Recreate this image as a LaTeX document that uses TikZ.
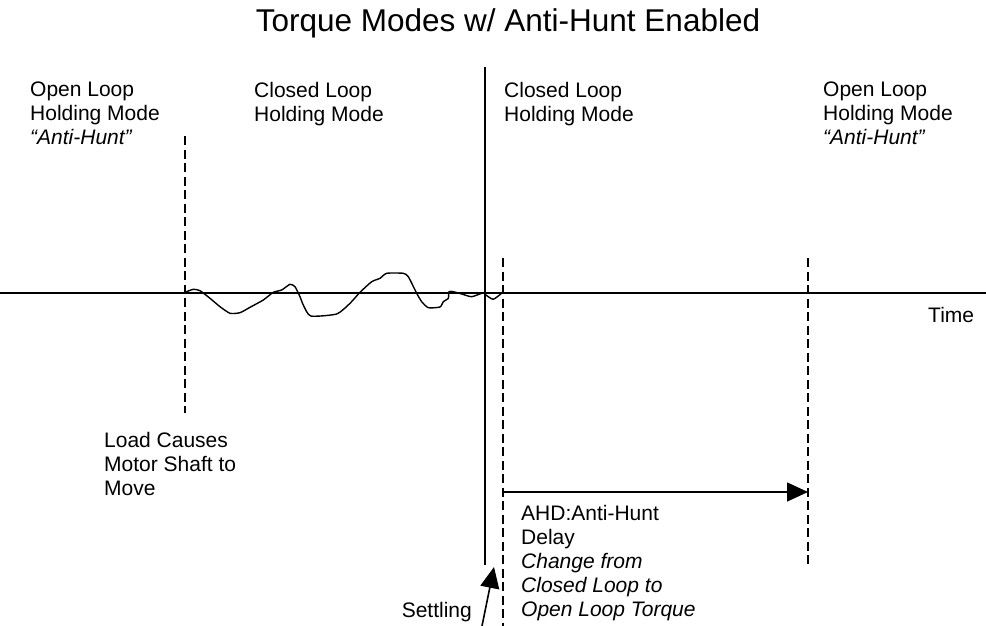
\documentclass[tikz,border=0pt]{standalone}
\usepackage{fontspec}
\setmainfont{Liberation Sans}
\usetikzlibrary{arrows.meta}

\tikzset{
  lbl/.style={anchor=north west,inner sep=0pt,align=left,font=\fontsize{21}{24}\selectfont},
  axisline/.style={line width=1.6pt},
  guide/.style={line width=1.6pt,dash pattern=on 9pt off 4.5pt},
  bigtip/.style={line width=1.6pt,-{Triangle[length=21pt,width=19pt]}}
}

\begin{document}
\begin{tikzpicture}[x=1pt,y=-1pt]
\useasboundingbox (0,0) rectangle (986,626);

% title
\node[anchor=base,inner sep=0pt,font=\fontsize{31.5}{36}\selectfont] (title) at (508,32) {Torque Modes w/ Anti-Hunt Enabled};

% time axis
\coordinate (t0) at (0,293);
\coordinate (t1) at (986,293);
\draw[axisline] (t0) -- (t1);
\node[anchor=base west,inner sep=0pt,font=\fontsize{21}{24}\selectfont] (time) at (928,322) {Time};

% mode boundaries
\coordinate (load top) at (185,136);
\coordinate (load bot) at (185,413);
\coordinate (settle top) at (485,67);
\coordinate (settle bot) at (485,565);
\coordinate (ahd top) at (503,258);
\coordinate (ahd bot) at (503,626);
\coordinate (hunt top) at (808,258);
\coordinate (hunt bot) at (808,568);
\draw[guide] (load top) -- (load bot);
\draw[axisline] (settle top) -- (settle bot);
\draw[guide] (ahd top) -- (ahd bot);
\draw[guide] (hunt top) -- (hunt bot);

% shaft position while the load acts
\draw[line width=1.4pt,line join=round] plot[smooth,tension=0.35] coordinates {
  (185,292.3) (193.3,289.3) (200,290.7) (210,298.3) (220,306.7) (230,313.3)
  (240,312.7) (250,307.3) (263.3,300) (273.3,292.3) (281.7,290) (290,284.3)
  (295,286.7) (300,296.7) (303.3,305) (310.7,316) (336.7,314) (350,303.3)
  (360,292.3) (371.7,281.7) (380,278.3) (386.7,273.3) (403.3,273.3) (408.3,276.7)
  (416.7,293.3) (421.7,301.7) (428.3,307.7) (440,307) (443.3,301.7) (448.3,298.3)
  (449,291.7) (453.3,291.7) (461.7,294) (471.7,296.7) (483.3,292.7) (485,294.3)
  (493.3,299.3) (502.7,292.3)};

% mode labels
\node[lbl] (ol left) at (30,81.7) {Open Loop\\Holding Mode\\\textit{“Anti-Hunt”}};
\node[lbl] (cl left) at (254,81.7) {Closed Loop\\Holding Mode};
\node[lbl] (cl right) at (504,81.7) {Closed Loop\\Holding Mode};
\node[lbl] (ol right) at (823,81.7) {Open Loop\\Holding Mode\\\textit{“Anti-Hunt”}};

\node[lbl] (load) at (104,431.7) {Load Causes\\Motor Shaft to\\Move};

% anti-hunt delay
\coordinate (delay a) at (503,492);
\coordinate (delay b) at (808,492);
\draw[bigtip] (delay a) -- (delay b);
\node[lbl] (ahd) at (521,504.7) {AHD:Anti-Hunt\\Delay\\\textit{Change from}\\\textit{Closed Loop to}\\\textit{Open Loop Torque}};

% settling
\coordinate (settle tail) at (482,626);
\coordinate (settle tip) at (494,567);
\draw[bigtip] (settle tail) -- (settle tip);
\node[anchor=base east,inner sep=0pt,font=\fontsize{21}{24}\selectfont] (settling) at (472,617) {Settling};
\end{tikzpicture}
\end{document}
